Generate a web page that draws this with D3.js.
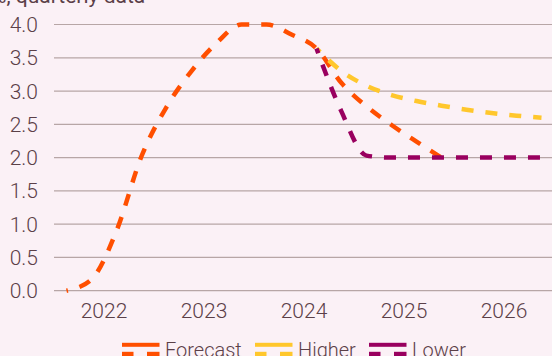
<!DOCTYPE html>
<html>
<head>
<meta charset="utf-8">
<script src="https://cdn.jsdelivr.net/npm/d3@7"></script>
<style>
  html, body { margin: 0; padding: 0; background: #fbf1f6; overflow: hidden; }
  text { font-family: Roboto, "Noto Sans", sans-serif; font-weight: 300; fill: #5b4048; }
</style>
</head>
<body>
<script>
// quarterly data, plotted at mid-quarter
var startYear = 2022;
var yearLabels = ["2022", "2023", "2024", "2025", "2026"];
var yTicks = [0, 0.5, 1, 1.5, 2, 2.5, 3, 3.5, 4];

// 2022Q1 .. 2025Q4
var forecast = [0.0, 0.17, 0.9, 2.02, 2.76, 3.3, 3.72, 4.0, 4.0, 3.85, 3.64, 3.12, 2.77, 2.49, 2.24, 2.0];
// 2024Q3 .. 2026Q4 (index 10 = 2024Q3 of the quarter list)
var higher = [3.64, 3.3, 3.08, 2.94, 2.85, 2.78, 2.72, 2.67, 2.63, 2.6];
var lower = [3.64, 2.69, 2.03, 2.0, 2.0, 2.0, 2.0, 2.0, 2.0, 2.0];
var scenarioStart = 10;

var seriesNames = ["Forecast", "Higher", "Lower"];
var seriesColors = ["#ff4f00", "#ffc72c", "#99005f"];

var width = 552,
  height = 356;

var svg = d3
  .select("body")
  .append("svg")
  .attr("width", width)
  .attr("height", height);

var x = d3.scaleLinear().domain([2022, 2027]).range([54, 554]);
var y = d3.scaleLinear().domain([0, 4]).range([290.7, 24.5]);

function toPoints(values, offset) {
  return values.map(function(v, i) {
    return { t: startYear + (offset + i + 0.5) / 4, v: v };
  });
}

// title, mostly cut off at the top
svg
  .append("text")
  .attr("x", -9)
  .attr("y", 3)
  .style("font-size", "21px")
  .style("font-weight", 400)
  .text("%, quarterly data");

// gridlines + y labels
svg
  .selectAll("line.grid")
  .data(yTicks)
  .enter()
  .append("line")
  .attr("class", "grid")
  .attr("x1", 54)
  .attr("x2", width)
  .attr("y1", function(d) { return y(d); })
  .attr("y2", function(d) { return y(d); })
  .attr("stroke", "#b7a6a6")
  .attr("stroke-width", 1.2);

svg
  .selectAll("text.ylab")
  .data(yTicks)
  .enter()
  .append("text")
  .attr("class", "ylab")
  .attr("x", 38)
  .attr("y", function(d) { return y(d); })
  .attr("dy", "0.36em")
  .attr("text-anchor", "end")
  .style("font-size", "21px")
  .text(function(d) { return d3.format(".1f")(d); });

// x labels at mid-year
svg
  .selectAll("text.xlab")
  .data(yearLabels)
  .enter()
  .append("text")
  .attr("class", "xlab")
  .attr("x", function(d) { return x(+d + 0.5); })
  .attr("y", 318)
  .attr("text-anchor", "middle")
  .style("font-size", "21px")
  .text(function(d) { return d; });

var line = d3
  .line()
  .x(function(d) { return x(d.t); })
  .y(function(d) { return y(d.v); })
  .curve(d3.curveMonotoneX);

var series = [
  { pts: toPoints(forecast, 0), offset: 10.5 },
  { pts: toPoints(higher, scenarioStart), offset: 7 },
  { pts: toPoints(lower, scenarioStart), offset: 7 }
];

series.forEach(function(s, i) {
  svg
    .append("path")
    .attr("d", line(s.pts))
    .attr("fill", "none")
    .attr("stroke", seriesColors[i])
    .attr("stroke-width", 4.5)
    .attr("stroke-dasharray", "12,12")
    .attr("stroke-dashoffset", s.offset);
});

// legend
var legendX = [122, 255, 369];
var legend = svg
  .selectAll("g.legend")
  .data(seriesNames)
  .enter()
  .append("g")
  .attr("class", "legend")
  .attr("transform", function(d, i) { return "translate(" + legendX[i] + ",0)"; });

legend
  .append("rect")
  .attr("x", 0)
  .attr("y", 342.8)
  .attr("width", 37.5)
  .attr("height", 4)
  .attr("fill", function(d, i) { return seriesColors[i]; });

legend
  .append("rect")
  .attr("x", 0)
  .attr("y", 351.8)
  .attr("width", 11.5)
  .attr("height", 4.5)
  .attr("fill", function(d, i) { return seriesColors[i]; });

legend
  .append("rect")
  .attr("x", 25)
  .attr("y", 351.8)
  .attr("width", 12.5)
  .attr("height", 4.5)
  .attr("fill", function(d, i) { return seriesColors[i]; });

legend
  .append("text")
  .attr("x", 43)
  .attr("y", 357)
  .style("font-size", "20px")
  .text(function(d) { return d; });
</script>
</body>
</html>
